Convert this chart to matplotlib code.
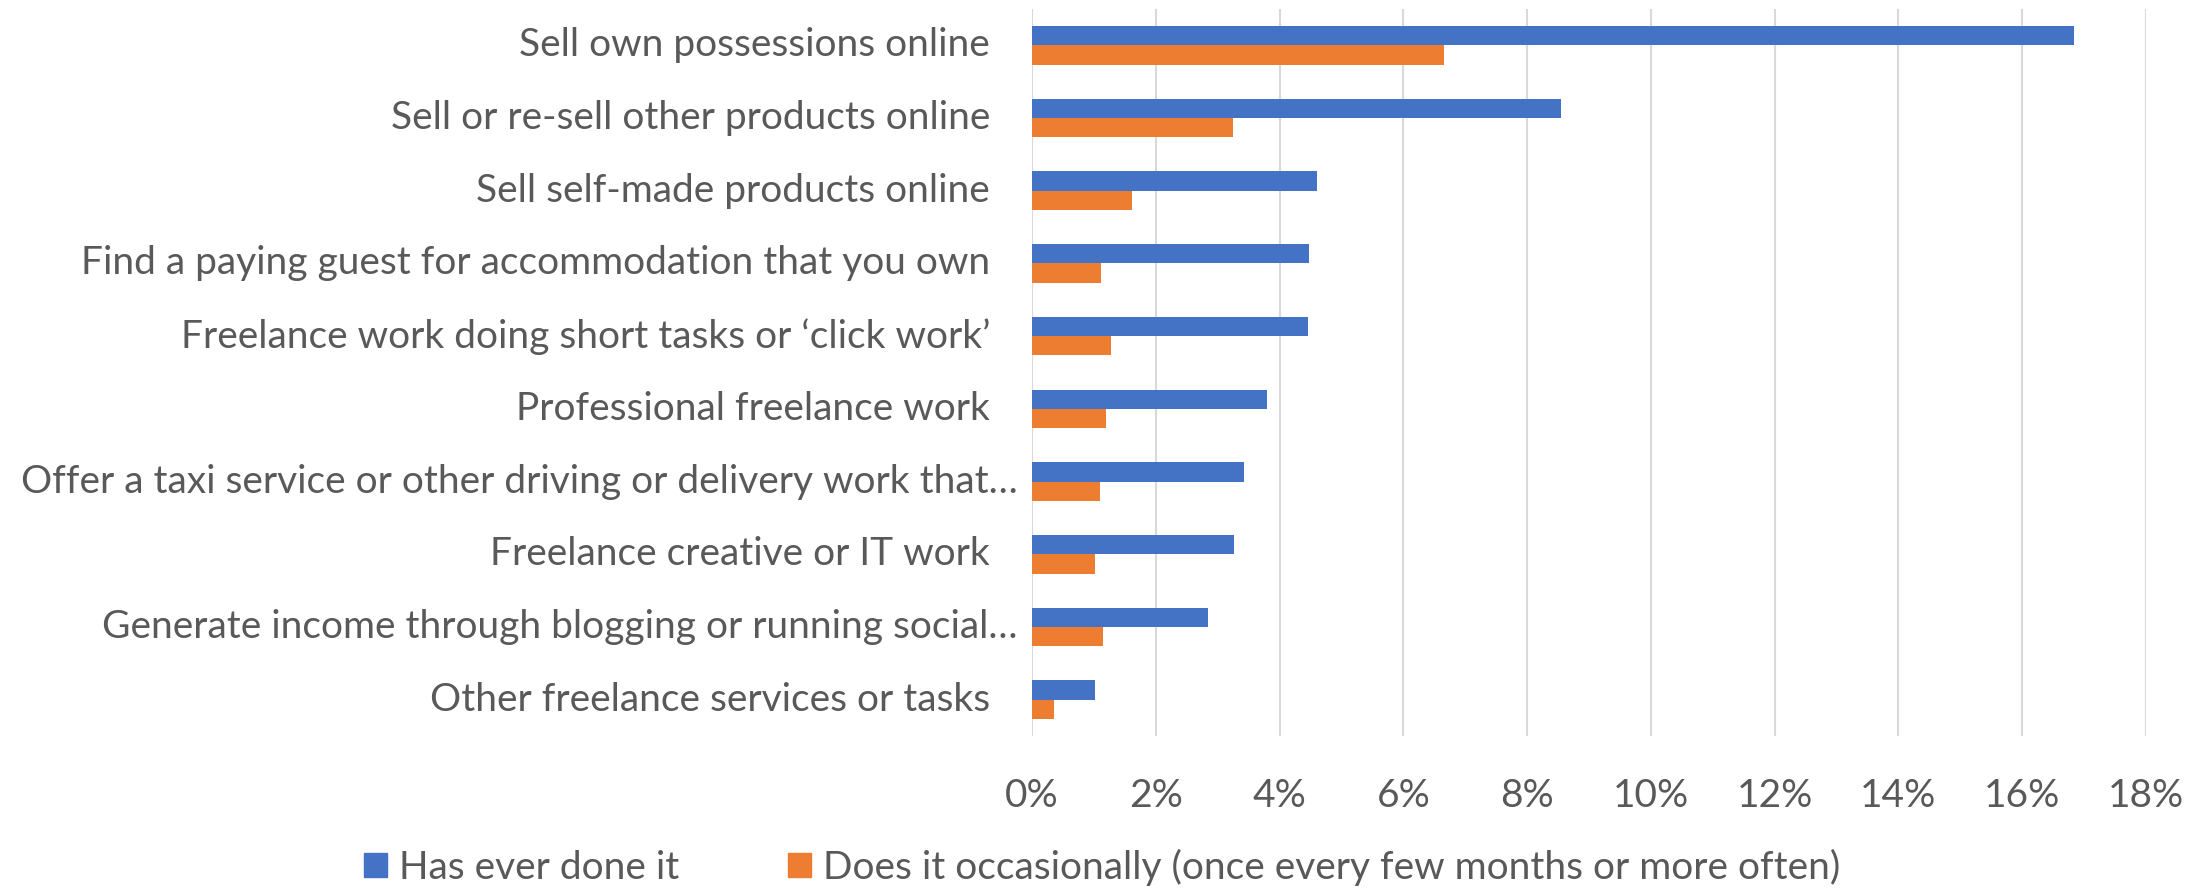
import matplotlib
matplotlib.use("Agg")
import matplotlib.pyplot as plt
from matplotlib.patches import Patch
from matplotlib.ticker import PercentFormatter
import numpy as np

plt.rcParams['font.family'] = ['Lato', 'DejaVu Sans']

# categorias (de arriba hacia abajo)
categories = [
    "Sell own possessions online",
    "Sell or re-sell other products online",
    "Sell self-made products online",
    "Find a paying guest for accommodation that you own",
    "Freelance work doing short tasks or \u2018click work\u2019",
    "Professional freelance work",
    "Offer a taxi service or other driving or delivery work that\u2026",
    "Freelance creative or IT work",
    "Generate income through blogging or running social\u2026",
    "Other freelance services or tasks",
]
ever_done = [16.84, 8.54, 4.61, 4.48, 4.46, 3.80, 3.42, 3.26, 2.85, 1.01]
occasionally = [6.66, 3.24, 1.62, 1.12, 1.27, 1.20, 1.10, 1.02, 1.15, 0.35]
series_names = ["Has ever done it",
                "Does it occasionally (once every few months or more often)"]
x_ticks = list(range(0, 19, 2))

blue = '#4472C4'
orange = '#ED7D31'
text_col = '#595959'
grid_col = '#D9D9D9'
fs = 28

fig = plt.figure(figsize=(22.03, 8.89), dpi=100)
ax = fig.add_axes([1032 / 2203, 1 - 736 / 889, (2146 - 1032) / 2203, (736 - 9) / 889])

y = np.arange(len(categories))
h = 0.266
ax.barh(y - h / 2, ever_done, height=h, color=blue, zorder=3)
ax.barh(y + h / 2, occasionally, height=h, color=orange, zorder=3)

ax.set_ylim(len(categories) - 0.5, -0.5)
ax.set_xlim(0, 18)
ax.set_xticks(x_ticks)
ax.xaxis.set_major_formatter(PercentFormatter(decimals=0))
ax.tick_params(axis='x', length=0, labelsize=fs, labelcolor=text_col, pad=30)
ax.set_yticks([])
ax.grid(axis='x', color=grid_col, linewidth=1.5, zorder=0)
for s in ax.spines.values():
    s.set_visible(False)

# etiquetas a mano (las truncadas quedan un poco mas a la derecha, como en excel)
for i, lab in enumerate(categories):
    xr = 990 if not lab.endswith('\u2026') else 1018
    ax.text((xr - 1032) / (2146 - 1032), i, lab, transform=ax.get_yaxis_transform(),
            ha='right', va='center', fontsize=fs, color=text_col)

handles = [Patch(color=blue, label=series_names[0]),
           Patch(color=orange, label=series_names[1])]
fig.legend(handles=handles, loc='center left', bbox_to_anchor=(364 / 2203, 1 - 867 / 889), ncol=2,
           frameon=False, fontsize=fs, labelcolor=text_col, handlelength=0.6,
           handleheight=0.6, handletextpad=0.3, columnspacing=2.8,
           borderpad=0, borderaxespad=0)

fig.savefig('out.png', dpi=100)
